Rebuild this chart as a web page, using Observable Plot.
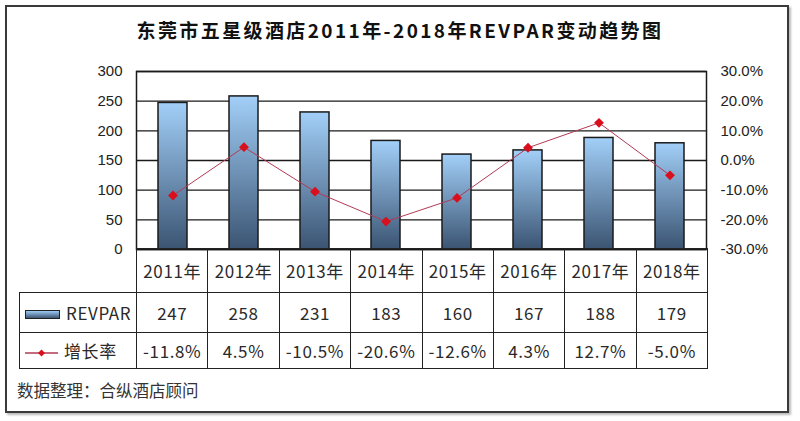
<!DOCTYPE html>
<html><head><meta charset="utf-8">
<script src="https://cdn.jsdelivr.net/npm/d3@7"></script>
<script src="https://cdn.jsdelivr.net/npm/@observablehq/plot@0.6"></script>
<style>
html,body{margin:0;padding:0;background:#fff;}
#wrap{position:relative;width:800px;height:421px;background:#fff;overflow:hidden;font-family:"Noto Sans CJK SC","Noto Sans",sans-serif;}
#border{position:absolute;left:5px;top:5px;width:780px;height:404px;border:2px solid #3a3a3a;box-shadow:2px 2px 2px #bbb;}
#title{position:absolute;left:0;top:17px;width:800px;text-align:center;font-size:19px;font-weight:700;color:#111;letter-spacing:2.4px;line-height:26px;}
#chart{position:absolute;left:0;top:0;}
#tbl{position:absolute;left:19px;top:248px;border-collapse:collapse;table-layout:fixed;width:688px;font-size:17px;color:#2a2a2a;}
#tbl td{border:1.5px solid #222;text-align:center;padding:0;white-space:nowrap;letter-spacing:0.6px;}
#tbl tr.r1 td{height:43px;}
#tbl tr.r2 td{height:39px;}
#tbl tr.r3 td{height:35px;}
#tbl td.blank{border-left:none;border-top:none;}
#tbl td.leg{text-align:left;padding-left:5px;}
.sw{display:inline-block;vertical-align:middle;width:33px;height:7px;border:1.2px solid #222;background:linear-gradient(#9ccbf5,#3d5573);margin-right:6px;position:relative;top:-1px;}
#foot{position:absolute;left:17px;top:378px;font-size:16.5px;color:#333;}
</style></head>
<body>
<div id="wrap">
  <div id="border"></div>
  <div id="chart"></div>
  <div id="title"></div>
  <table id="tbl"></table>
  <div id="foot"></div>
</div>
<script>
const titleText = "东莞市五星级酒店2011年-2018年REVPAR变动趋势图";
const footText = "数据整理：合纵酒店顾问";
const years = ["2011", "2012", "2013", "2014", "2015", "2016", "2017", "2018"];
const revpar = [247, 258, 231, 183, 160, 167, 188, 179];
const growth = [-0.118, 0.045, -0.105, -0.206, -0.126, 0.043, 0.127, -0.050];
const leftTicks = [0, 50, 100, 150, 200, 250, 300];
const rightTicks = [-0.3, -0.2, -0.1, 0, 0.1, 0.2, 0.3];
const seriesNames = ["REVPAR", "增长率"];

const pct = v => (v * 100).toFixed(1) + "%";
// map growth rate onto the left axis domain for the secondary axis
const gMin = -0.3, gMax = 0.3, yMax = 300;
const toY = g => (g - gMin) / (gMax - gMin) * yMax;

const data = years.map((y, i) => ({year: y, revpar: revpar[i], growth: growth[i]}));

document.getElementById("title").textContent = titleText;
document.getElementById("foot").textContent = footText;

const defs = () => {
  const d = d3.create("svg:defs");
  const g = d.append("linearGradient").attr("id", "barGrad").attr("x1", 0).attr("y1", 0).attr("x2", 0).attr("y2", 1);
  g.append("stop").attr("offset", "0%").attr("stop-color", "#a2cff8");
  g.append("stop").attr("offset", "100%").attr("stop-color", "#3b5472");
  return d.node();
};

const chart = Plot.plot({
  width: 800,
  height: 421,
  marginTop: 71,
  marginBottom: 172,
  marginLeft: 136,
  marginRight: 94,
  style: {fontFamily: "'Liberation Sans', Arial, sans-serif", fontSize: "15px", color: "#222", background: "transparent", overflow: "visible"},
  x: {type: "band", domain: years, padding: 0, axis: null},
  y: {domain: [0, yMax], axis: null},
  marks: [
    defs,
    Plot.ruleY(leftTicks, {stroke: "#1a1a1a", strokeWidth: 1.3}),
    Plot.barY(data, {x: "year", y: "revpar", fill: "url(#barGrad)", stroke: "#1a1a1a", strokeWidth: 1.5, insetLeft: 21, insetRight: 21}),
    Plot.frame({stroke: "#1a1a1a", strokeWidth: 1.5}),
    Plot.line(data, {x: "year", y: d => toY(d.growth), stroke: "#b23a55", strokeWidth: 1}),
    Plot.dot(data, {x: "year", y: d => toY(d.growth), symbol: "diamond2", fill: "#d8101e", stroke: "#d8101e", r: 3.5}),
    Plot.axisY(leftTicks, {anchor: "left", label: null, tickSize: 0, tickPadding: 14, fontSize: 15, fill: "#222"}),
    Plot.axisY(rightTicks.map(toY), {anchor: "right", label: null, tickSize: 0, tickPadding: 14, fontSize: 15, fill: "#222", tickFormat: (d, i) => pct(rightTicks[i])})
  ]
});
document.getElementById("chart").appendChild(chart);

// data table beneath the chart
const tbl = d3.select("#tbl");
const cg = tbl.append("colgroup");
cg.append("col").style("width", "117px");
years.forEach(() => cg.append("col").style("width", "71.375px"));
const r1 = tbl.append("tr").attr("class", "r1");
r1.append("td").attr("class", "blank");
years.forEach(y => r1.append("td").text(y + "年"));
const r2 = tbl.append("tr").attr("class", "r2");
const l2 = r2.append("td").attr("class", "leg");
l2.append("span").attr("class", "sw");
l2.append("span").text(seriesNames[0]);
revpar.forEach(v => r2.append("td").text(v));
const r3 = tbl.append("tr").attr("class", "r3");
const l3 = r3.append("td").attr("class", "leg");
const ls = l3.append("svg").attr("width", 33).attr("height", 10).style("vertical-align", "middle").style("margin-right", "6px");
ls.append("line").attr("x1", 0).attr("x2", 33).attr("y1", 5).attr("y2", 5).attr("stroke", "#b23a55").attr("stroke-width", 1.5);
ls.append("path").attr("d", "M16.5,1.5L20,5L16.5,8.5L13,5Z").attr("fill", "#d8101e");
l3.append("span").text(seriesNames[1]);
growth.forEach(v => r3.append("td").text(pct(v)));
</script>
</body></html>
